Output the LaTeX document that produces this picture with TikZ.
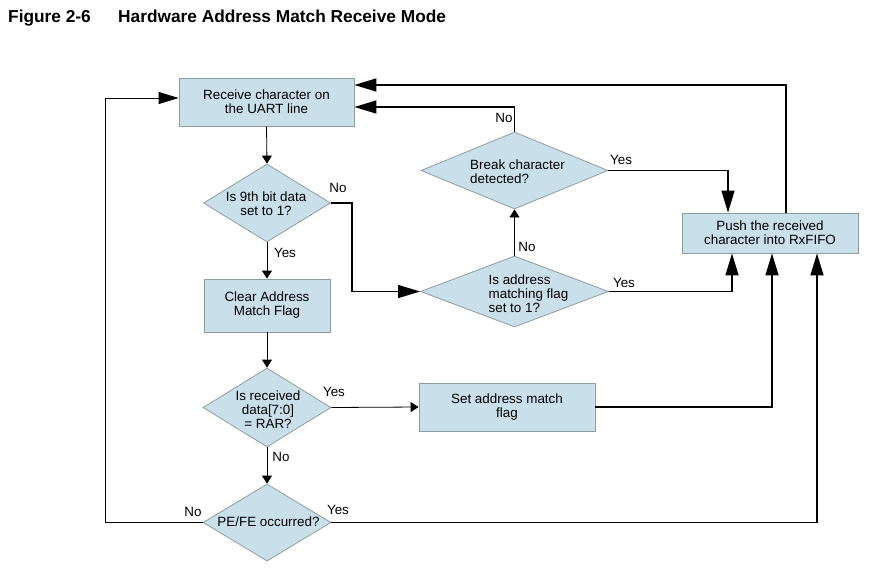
\documentclass[tikz,border=0pt]{standalone}
\usepackage{fontspec}
\setmainfont{Liberation Sans}
\usetikzlibrary{shapes.geometric,arrows.meta}
\definecolor{boxfill}{HTML}{C9E0EA}
\definecolor{boxline}{HTML}{8C9CA3}
\begin{document}
\begin{tikzpicture}[x=1pt,y=-1pt,
  font=\fontsize{13.4}{14}\selectfont,
  proc/.style={draw=boxline, fill=boxfill, line width=0.8pt, inner sep=0pt, align=center},
  dia/.style={diamond, draw=boxline, fill=boxfill, line width=0.8pt, inner sep=0pt},
  txt/.style={inner sep=0pt},
  lbl/.style={inner sep=0pt},
  thinline/.style={line width=0.8pt, -{Triangle[length=8pt,width=10pt]}},
  plainline/.style={line width=0.8pt, -{Triangle[length=20pt,width=12pt]}},
  bigline/.style={line width=1.4pt, -{Triangle[length=22pt,width=13pt]}},
]
\useasboundingbox (0,0) rectangle (874,567);

% title
\node[anchor=base west, inner sep=0pt, font=\bfseries\fontsize{17.3}{20}\selectfont] (fig) at (8,23) {Figure 2-6};
\node[anchor=base west, inner sep=0pt, font=\bfseries\fontsize{17.3}{20}\selectfont] (ttl) at (118,23) {Hardware Address Match Receive Mode};

% process boxes
\node[proc, minimum width=175pt, minimum height=48pt] (r) at (266.5,102) {Receive character on\\the UART line};
\node[proc, minimum width=126pt, minimum height=53pt] (clr) at (267,305.5) {Clear Address\\Match Flag};
\node[proc, minimum width=176pt, minimum height=40pt] (push) at (770,233) {Push the received\\character into RxFIFO};
\node[proc, minimum width=176pt, minimum height=48pt] (set) at (507,407) {Set address match\\flag};

% decisions
\node[dia, minimum width=127pt, minimum height=78pt] (d1) at (267,203) {};
\node[txt, align=center] (d1t) at (266,204) {Is 9th bit data\\set to 1?};
\node[dia, minimum width=187pt, minimum height=77pt] (d2) at (514.5,170.5) {};
\node[txt, align=left] (d2t) at (517.5,171.5) {Break character\\detected?};
\node[dia, minimum width=188pt, minimum height=71pt] (d3) at (514.5,291.5) {};
\node[txt, align=left] (d3t) at (528.5,294) {Is address\\matching flag\\set to 1?};
\node[dia, minimum width=128pt, minimum height=79pt] (d4) at (267,407.5) {};
\node[txt, align=center] (d4t) at (268,410) {Is received\\data[7:0]\\= RAR?};
\node[dia, minimum width=128pt, minimum height=77pt] (d5) at (267,522.5) {};
\node[txt] (d5t) at (268.5,522) {PE/FE occurred?};

% connectors
\draw[thinline] (r.south) -- (d1.north);
\draw[thinline] (d1.south) -- (clr.north);
\draw[bigline] (d1.east) -- ++(21,0) |- (d3.west);
\draw[thinline] (clr.south) -- (d4.north);
\draw[thinline] (d4.south) -- (d5.north);
\draw[thinline] (d4.east) -- (set.west);
\draw[plainline] (d5.west) -- ++(-97,0) |- ([yshift=4pt]r.west);
\draw[bigline] (d5.east) -| ([xshift=47pt]push.south);
\draw[bigline] (set.east) -| ([xshift=2pt]push.south);
\draw[bigline] (d3.east) -| ([xshift=-38pt]push.south);
\draw[thinline] (d3.north) -- (d2.south);
\draw[bigline] (d2.east) -| ([xshift=-42pt]push.north);
\draw[bigline] (d2.north) |- ([yshift=-5pt]r.east);
\draw[bigline] ([xshift=16pt]push.north) |- ([yshift=17pt]r.east);

% labels
\node[lbl] (l1) at (338,188) {No};
\node[lbl] (l2) at (285,253) {Yes};
\node[lbl] (l3) at (527,247) {No};
\node[lbl] (l4) at (624,283) {Yes};
\node[lbl] (l5) at (621,160) {Yes};
\node[lbl] (l6) at (504,118) {No};
\node[lbl] (l7) at (334,392) {Yes};
\node[lbl] (l8) at (281,457) {No};
\node[lbl] (l9) at (193,512) {No};
\node[lbl] (l10) at (338,510) {Yes};
\end{tikzpicture}
\end{document}
